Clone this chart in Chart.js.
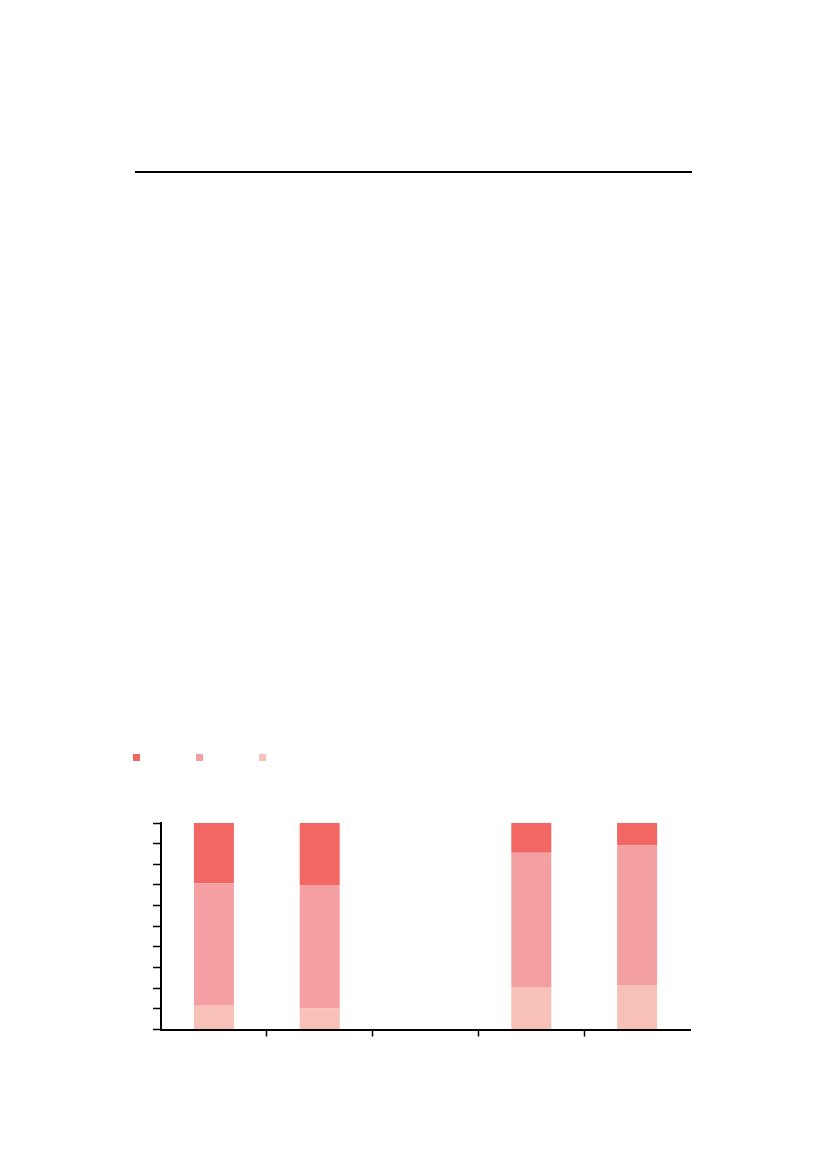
<!DOCTYPE html>
<html>
<head>
<meta charset="utf-8">
<script src="https://cdn.jsdelivr.net/npm/chart.js@4/dist/chart.umd.min.js"></script>
<style>
    html, body {
        margin: 0;
        padding: 0;
        background: #ffffff;
        font-family: "Liberation Sans", "DejaVu Sans", sans-serif;
    }
    .page {
        position: relative;
        width: 827px;
        height: 1169px;
    }
    .rule {
        position: absolute;
        left: 135px;
        top: 171px;
        width: 557px;
        border-top: 2px solid #000000;
    }
    #legend {
        position: absolute;
        left: 133px;
        top: 754px;
        display: flex;
        gap: 56px;
    }
    #legend .box {
        width: 7px;
        height: 7px;
    }
    #chartWrap {
        position: absolute;
        left: 120px;
        top: 800px;
        width: 600px;
        height: 260px;
    }
</style>
</head>
<body>
<div class="page">
    <div class="rule"></div>
    <div id="legend"></div>
    <div id="chartWrap"><canvas id="stackChart" width="600" height="260"></canvas></div>
</div>

<script>
// Datos del grafico
const categories = ['1', '2', '3', '4', '5'];
const seriesNames = ['Serie C', 'Serie B', 'Serie A'];
const seriesColors = ['#f8c1b7', '#f4a0a2', '#f26763'];

const lowValues = [11.5, 10.3, null, 20.2, 21.5];
const midValues = [59.2, 59.7, null, 65.4, 67.6];
const topValues = [29.3, 30.0, null, 14.4, 10.9];

const yTicks = [0, 10, 20, 30, 40, 50, 60, 70, 80, 90, 100];

// Leyenda en HTML (solo cuadros de color, de arriba hacia abajo)
const htmlLegendPlugin = {
    id: 'htmlLegend',
    afterUpdate(chart) {
        const legend = document.getElementById('legend');
        legend.innerHTML = '';
        chart.data.datasets.slice().reverse().forEach(ds => {
            const box = document.createElement('div');
            box.className = 'box';
            box.style.background = ds.backgroundColor;
            box.title = ds.label;
            legend.appendChild(box);
        });
    }
};

const ctx = document.getElementById('stackChart').getContext('2d');
const stackChart = new Chart(ctx, {
    type: 'bar',
    data: {
        labels: categories,
        datasets: [
            { label: seriesNames[0], data: lowValues, backgroundColor: seriesColors[0] },
            { label: seriesNames[1], data: midValues, backgroundColor: seriesColors[1] },
            { label: seriesNames[2], data: topValues, backgroundColor: seriesColors[2] }
        ].map(ds => Object.assign(ds, {
            borderWidth: 0,
            categoryPercentage: 1,
            barPercentage: 0.378
        }))
    },
    options: {
        responsive: false,
        animation: false,
        devicePixelRatio: 1,
        layout: {
            padding: { left: 33, top: 23, right: 30, bottom: 23.5 }
        },
        plugins: {
            legend: { display: false },
            tooltip: { enabled: false }
        },
        scales: {
            x: {
                stacked: true,
                offset: true,
                grid: {
                    offset: true,
                    drawOnChartArea: false,
                    tickLength: 7,
                    tickWidth: 1.5,
                    // sin marca en los extremos del eje
                    tickColor: (c) => (c.type === 'tick' && c.index > 0) ? '#000000' : 'rgba(0,0,0,0)'
                },
                border: { color: '#000000', width: 2 },
                ticks: { display: false }
            },
            y: {
                stacked: true,
                min: yTicks[0],
                max: yTicks[yTicks.length - 1],
                afterBuildTicks: (scale) => {
                    scale.ticks = yTicks.map(v => ({ value: v }));
                },
                grid: {
                    drawOnChartArea: false,
                    tickLength: 8,
                    tickWidth: 1.5,
                    tickColor: '#000000'
                },
                border: { color: '#000000', width: 2 },
                ticks: { display: false }
            }
        }
    },
    plugins: [htmlLegendPlugin]
});
</script>
</body>
</html>
